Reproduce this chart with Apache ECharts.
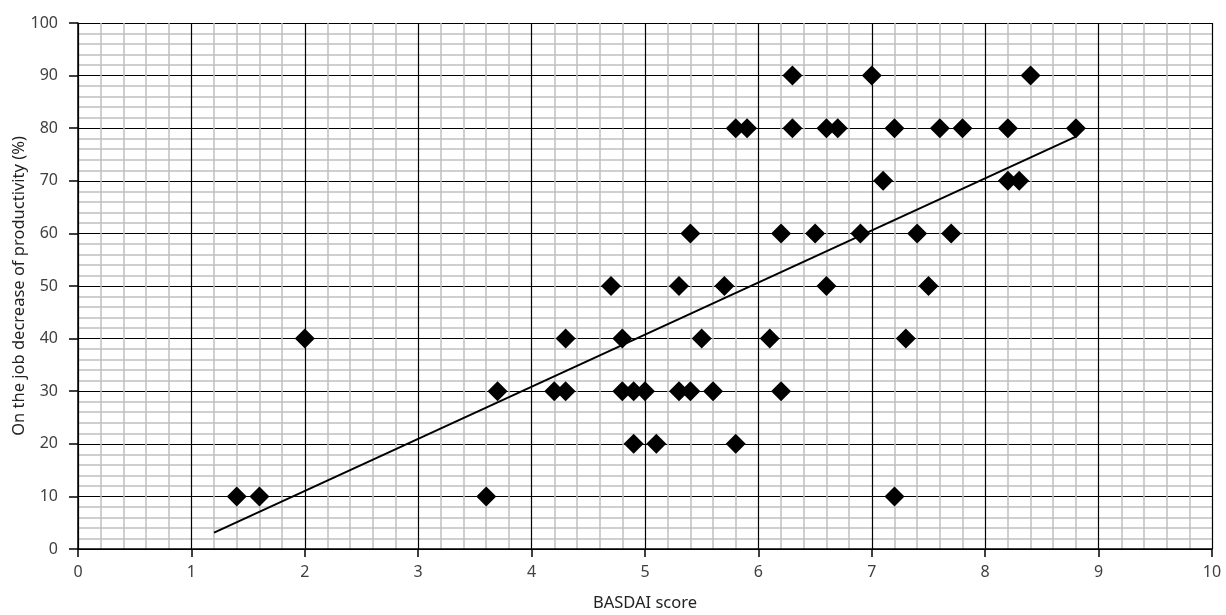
<!DOCTYPE html>
<html lang="en">
<head>
<meta charset="UTF-8">
<title>BASDAI vs productivity</title>
<script src="https://cdn.jsdelivr.net/npm/echarts@6/dist/echarts.min.js"></script>
<style>
  html, body { margin: 0; padding: 0; background: #fff; }
  #main { width: 1226px; height: 615px; }
</style>
</head>
<body>
<div id="main"></div>
<script>
  // BASDAI score (x) and on-the-job productivity decrease in % (y)
  let basdai = [1.4, 1.6, 2.0, 3.6, 3.7, 4.2, 4.3, 4.3, 4.7, 4.8, 4.8, 4.9, 4.9, 5.0,
    5.1, 5.3, 5.3, 5.4, 5.4, 5.5, 5.6, 5.7, 5.8, 5.8, 5.9, 6.1, 6.2, 6.2, 6.3, 6.3,
    6.5, 6.6, 6.6, 6.7, 6.9, 7.0, 7.1, 7.2, 7.2, 7.3, 7.4, 7.5, 7.6, 7.7, 7.8,
    8.2, 8.2, 8.3, 8.4, 8.8];
  let productivity = [10, 10, 40, 10, 30, 30, 30, 40, 50, 40, 30, 30, 20, 30,
    20, 50, 30, 30, 60, 40, 30, 50, 80, 20, 80, 40, 60, 30, 90, 80,
    60, 80, 50, 80, 60, 90, 70, 80, 10, 40, 60, 50, 80, 60, 80,
    80, 70, 70, 90, 80];
  // trend line end points
  let trendX = [1.2, 8.8];
  let trendY = [3.1, 78.4];

  let points = basdai.map(function(x, i) { return [x, productivity[i]]; });
  let trend = trendX.map(function(x, i) { return [x, trendY[i]]; });

  let myChart = echarts.init(document.getElementById('main'));
  let textStyle = { color: '#404040', fontFamily: 'Noto Sans', fontSize: 16 };
  let nameStyle = { color: '#222', fontFamily: 'Noto Sans', fontSize: 16.5 };

  myChart.setOption({
    animation: false,
    grid: { left: 78, right: 14, top: 23, bottom: 66, containLabel: false, outerBoundsMode: 'none' },
    xAxis: {
      type: 'value', min: 0, max: 10, interval: 1,
      name: 'BASDAI score', nameLocation: 'middle', nameGap: 46, nameMoveOverlap: false,
      nameTextStyle: nameStyle,
      axisLine: { lineStyle: { color: '#000', width: 1.5 } },
      axisTick: { show: true, length: 8, lineStyle: { color: '#000', width: 1.5 } },
      axisLabel: Object.assign({ margin: 15 }, textStyle),
      splitLine: { show: true, lineStyle: { color: '#000', width: 1.2 } },
      minorTick: { show: false, splitNumber: 5 },
      minorSplitLine: { show: true, lineStyle: { color: '#c0c0c0', width: 1.5 } }
    },
    yAxis: {
      type: 'value', min: 0, max: 100, interval: 10,
      name: 'On the job decrease of productivity (%)', nameLocation: 'middle', nameGap: 50, nameMoveOverlap: false,
      nameTextStyle: nameStyle,
      axisLine: { show: true, lineStyle: { color: '#000', width: 1.5 } },
      axisTick: { show: true, length: 9, lineStyle: { color: '#000', width: 1.5 } },
      axisLabel: Object.assign({ margin: 20 }, textStyle),
      splitLine: { show: true, lineStyle: { color: '#000', width: 1.2 } },
      minorTick: { show: false, splitNumber: 5 },
      minorSplitLine: { show: true, lineStyle: { color: '#c0c0c0', width: 1.5 } }
    },
    series: [{
      type: 'line',
      data: trend,
      symbol: 'none',
      lineStyle: { color: '#000', width: 2 },
      z: 2
    }, {
      type: 'scatter',
      data: points,
      symbol: 'diamond',
      symbolSize: 20,
      itemStyle: { color: '#000', opacity: 1 },
      z: 3
    }]
  });
</script>
</body>
</html>
